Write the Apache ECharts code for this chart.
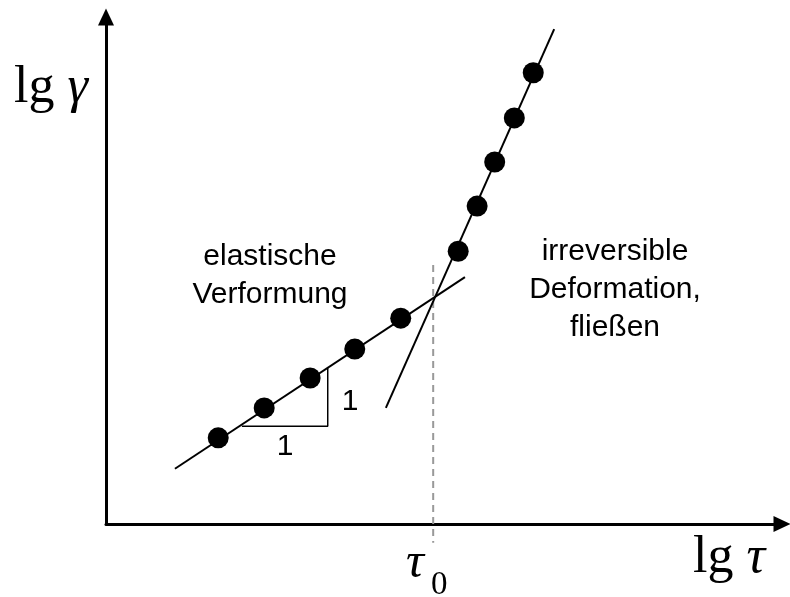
<!DOCTYPE html>
<html>
<head>
<meta charset="utf-8">
<script src="https://cdn.jsdelivr.net/npm/echarts@6/dist/echarts.min.js"></script>
<style>
  html, body { margin: 0; padding: 0; background: #fff; }
  #main { width: 790px; height: 597px; }
</style>
</head>
<body>
<div id="main"></div>
<script>
// measured points (lg tau, lg gamma), arbitrary units
var pointsX = [1.66, 2.34, 3.02, 3.68, 4.36, 5.21, 5.49, 5.75, 6.04, 6.32];
var pointsY = [1.70, 2.29, 2.88, 3.45, 4.06, 5.38, 6.27, 7.14, 8.01, 8.90];
// fit lines
var elasticX = [1.02, 5.31];
var elasticY = [1.09, 4.87];
var flowX = [4.14, 6.63];
var flowY = [2.29, 9.76];
// slope triangle
var triX = [2.01, 3.28, 3.28];
var triY = [1.93, 1.93, 3.08];
// yield stress marker
var tau0X = [4.84, 4.84];
var tau0Y = [5.11, -0.37];

function pairs(xs, ys) {
    return xs.map(function (x, i) { return [x, ys[i]]; });
}

var myChart = echarts.init(document.getElementById('main'));
var lineStyleBlack = { color: '#000', width: 2 };
var axisLineStyle = {
    show: true, symbol: ['none', 'triangle'], symbolSize: [16, 17], symbolOffset: [0, 0],
    lineStyle: { color: '#000', width: 3 }
};
option = {
    animation: false,
    grid: { left: 106, right: 8, top: 17, bottom: 73 },
    xAxis: {
        type: 'value', min: 0, max: 10,
        axisLine: axisLineStyle,
        axisTick: { show: false }, axisLabel: { show: false }, splitLine: { show: false }
    },
    yAxis: {
        type: 'value', min: 0, max: 10,
        axisLine: axisLineStyle,
        axisTick: { show: false }, axisLabel: { show: false }, splitLine: { show: false }
    },
    series: [
        {
            type: 'line', data: pairs(tau0X, tau0Y), symbol: 'none', clip: false,
            lineStyle: { color: '#999', width: 2, type: [7, 5] }
        },
        {
            type: 'line', data: pairs(elasticX, elasticY), symbol: 'none',
            lineStyle: lineStyleBlack
        },
        {
            type: 'line', data: pairs(flowX, flowY), symbol: 'none',
            lineStyle: lineStyleBlack
        },
        {
            type: 'line', data: pairs(triX, triY), symbol: 'none',
            lineStyle: { color: '#000', width: 1.5 }
        },
        {
            type: 'scatter', data: pairs(pointsX, pointsY), symbolSize: 21,
            itemStyle: { color: '#000', opacity: 1 }
        }
    ],
    graphic: [
        { type: 'text', left: 14, top: 62, style: {
            text: '{a|lg }{b|γ}', rich: {
                a: { fontFamily: 'Liberation Serif', fontSize: 52, fill: '#000' },
                b: { fontFamily: 'Liberation Serif', fontStyle: 'italic', fontSize: 52, fill: '#000' }
            } } },
        { type: 'text', left: 693, top: 532, style: {
            text: '{a|lg }{b|τ}', rich: {
                a: { fontFamily: 'Liberation Serif', fontSize: 52, fill: '#000' },
                b: { fontFamily: 'Liberation Serif', fontStyle: 'italic', fontSize: 52, fill: '#000' }
            } } },
        { type: 'text', left: 406, top: 539, style: {
            text: 'τ', fontFamily: 'Liberation Serif', fontStyle: 'italic', fontSize: 50, fill: '#000' } },
        { type: 'text', left: 431, top: 569, style: {
            text: '0', fontFamily: 'Liberation Serif', fontSize: 33, fill: '#000' } },
        { type: 'text', x: 270, y: 276, style: {
            text: 'elastische\nVerformung', fontFamily: 'Liberation Sans', fontSize: 30,
            lineHeight: 38, align: 'center', verticalAlign: 'middle', fill: '#000' } },
        { type: 'text', x: 615, y: 290, style: {
            text: 'irreversible\nDeformation,\nfließen', fontFamily: 'Liberation Sans', fontSize: 30,
            lineHeight: 38, align: 'center', verticalAlign: 'middle', fill: '#000' } },
        { type: 'text', x: 285, y: 447, style: {
            text: '1', fontFamily: 'Liberation Sans', fontSize: 30,
            align: 'center', verticalAlign: 'middle', fill: '#000' } },
        { type: 'text', x: 350, y: 402, style: {
            text: '1', fontFamily: 'Liberation Sans', fontSize: 30,
            align: 'center', verticalAlign: 'middle', fill: '#000' } }
    ]
};
myChart.setOption(option);
</script>
</body>
</html>
